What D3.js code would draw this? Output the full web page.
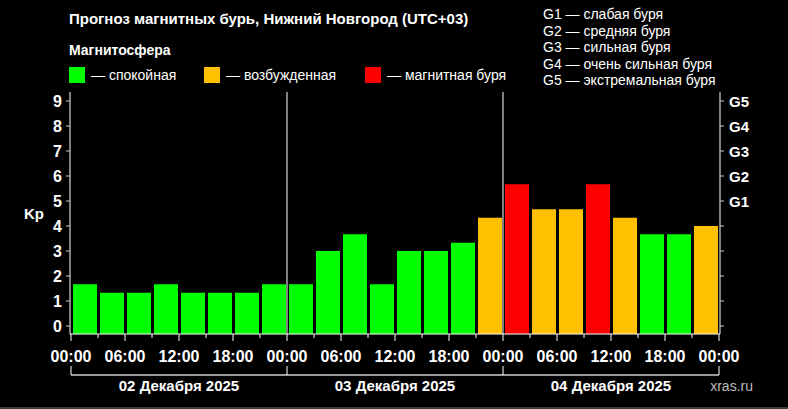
<!DOCTYPE html><html><head><meta charset="utf-8"><script src="https://cdn.jsdelivr.net/npm/d3@7"></script>
<style>body{margin:0;background:#000}svg{display:block;font-family:"Liberation Sans",Arial,sans-serif;font-weight:bold}</style></head><body>
<script>
const days=["02 Декабря 2025","03 Декабря 2025","04 Декабря 2025"];
const kp=[1.67,1.33,1.33,1.67,1.33,1.33,1.33,1.67, 1.67,3,3.67,1.67,3,3,3.33,4.33, 5.67,4.67,4.67,5.67,4.33,3.67,3.67,4];
const timeLabels=["00:00","06:00","12:00","18:00"];
const gLabels=["G1","G2","G3","G4","G5"];
const gLegend=["G1 — слабая буря","G2 — средняя буря","G3 — сильная буря","G4 — очень сильная буря","G5 — экстремальная буря"];
const legend=[["#00ff00","— спокойная"],["#ffc000","— возбужденная"],["#ff0000","— магнитная буря"]];
const W=788,H=409;
const svg=d3.select("body").append("svg").attr("width",W).attr("height",H);
svg.append("rect").attr("width",W).attr("height",H).attr("fill","#000");
const x=d3.scaleLinear().domain([0,24]).range([71,719]);
const y=d3.scaleLinear().domain([0,9]).range([326,101]);
const base=334;
const col=v=>v>=5?"#ff0000":v>=4?"#ffc000":"#00ff00";
svg.selectAll("rect.b").data(kp).join("rect").attr("x",(d,i)=>x(i)+2).attr("width",x(1)-x(0)-3)
 .attr("y",d=>y(d)).attr("height",d=>base-y(d)).attr("fill",col);
const w="#fff";
svg.append("line").attr("x1",x(0)-1).attr("x2",x(0)-1).attr("y1",92).attr("y2",base).attr("stroke",w);
svg.append("line").attr("x1",x(24)+1).attr("x2",x(24)+1).attr("y1",92).attr("y2",base).attr("stroke",w);
svg.append("line").attr("x1",x(0)-1).attr("x2",x(24)+1).attr("y1",base).attr("y2",base).attr("stroke",w);
[8,16].forEach(i=>svg.append("line").attr("x1",x(i)).attr("x2",x(i)).attr("y1",92).attr("y2",base).attr("stroke",w));
d3.range(10).forEach(v=>{
 svg.append("line").attr("x1",x(0)-5).attr("x2",x(0)-1).attr("y1",y(v)).attr("y2",y(v)).attr("stroke","#ccc");
 svg.append("line").attr("x1",x(24)+1).attr("x2",x(24)+5).attr("y1",y(v)).attr("y2",y(v)).attr("stroke","#ccc");
 svg.append("text").attr("x",x(0)-9).attr("y",y(v)+6).attr("text-anchor","end").attr("fill",w).attr("font-size",16).text(v);
});
gLabels.forEach((g,i)=>svg.append("text").attr("x",x(24)+10).attr("y",y(5+i)+6).attr("fill",w).attr("font-size",15).text(g));
svg.append("text").attr("x",24).attr("y",219).attr("fill",w).attr("font-size",15).text("Kp");
d3.range(25).forEach(i=>{
 svg.append("line").attr("x1",x(i)).attr("x2",x(i)).attr("y1",base).attr("y2",base+(i%2==0?7:4)).attr("stroke",w);
 if(i%2==0) svg.append("text").attr("x",x(i)).attr("y",362).attr("text-anchor","middle").attr("fill",w).attr("font-size",16).text(timeLabels[(i/2)%4]);
});
svg.append("line").attr("x1",x(0)).attr("x2",x(24)).attr("y1",375).attr("y2",375).attr("stroke","#999").attr("stroke-width",2);
[0,8,16,24].forEach(i=>svg.append("line").attr("x1",x(i)).attr("x2",x(i)).attr("y1",366).attr("y2",375).attr("stroke",w));
days.forEach((d,i)=>svg.append("text").attr("x",x(i*8+4)).attr("y",391).attr("text-anchor","middle").attr("fill",w).attr("font-size",15).text(d));
svg.append("text").attr("x",753).attr("y",391).attr("text-anchor","end").attr("fill","#bbb").attr("font-size",14).attr("font-weight","normal").text("xras.ru");
svg.append("line").attr("x1",0).attr("x2",W).attr("y1",408).attr("y2",408).attr("stroke","#777");
svg.append("text").attr("x",69).attr("y",24).attr("fill",w).attr("font-size",15).text("Прогноз магнитных бурь, Нижний Новгород (UTC+03)");
svg.append("text").attr("x",69).attr("y",55).attr("fill",w).attr("font-size",14).text("Магнитосфера");
const lx=[69,204,365];
legend.forEach((l,i)=>{svg.append("rect").attr("x",lx[i]).attr("y",67).attr("width",16).attr("height",16).attr("fill",l[0]);
 svg.append("text").attr("x",lx[i]+22).attr("y",80).attr("fill",w).attr("font-size",14).attr("font-weight","normal").text(l[1]);});
gLegend.forEach((g,i)=>svg.append("text").attr("x",543).attr("y",19+i*16.5).attr("fill",w).attr("font-size",14).attr("font-weight","normal").text(g));
</script></body></html>
